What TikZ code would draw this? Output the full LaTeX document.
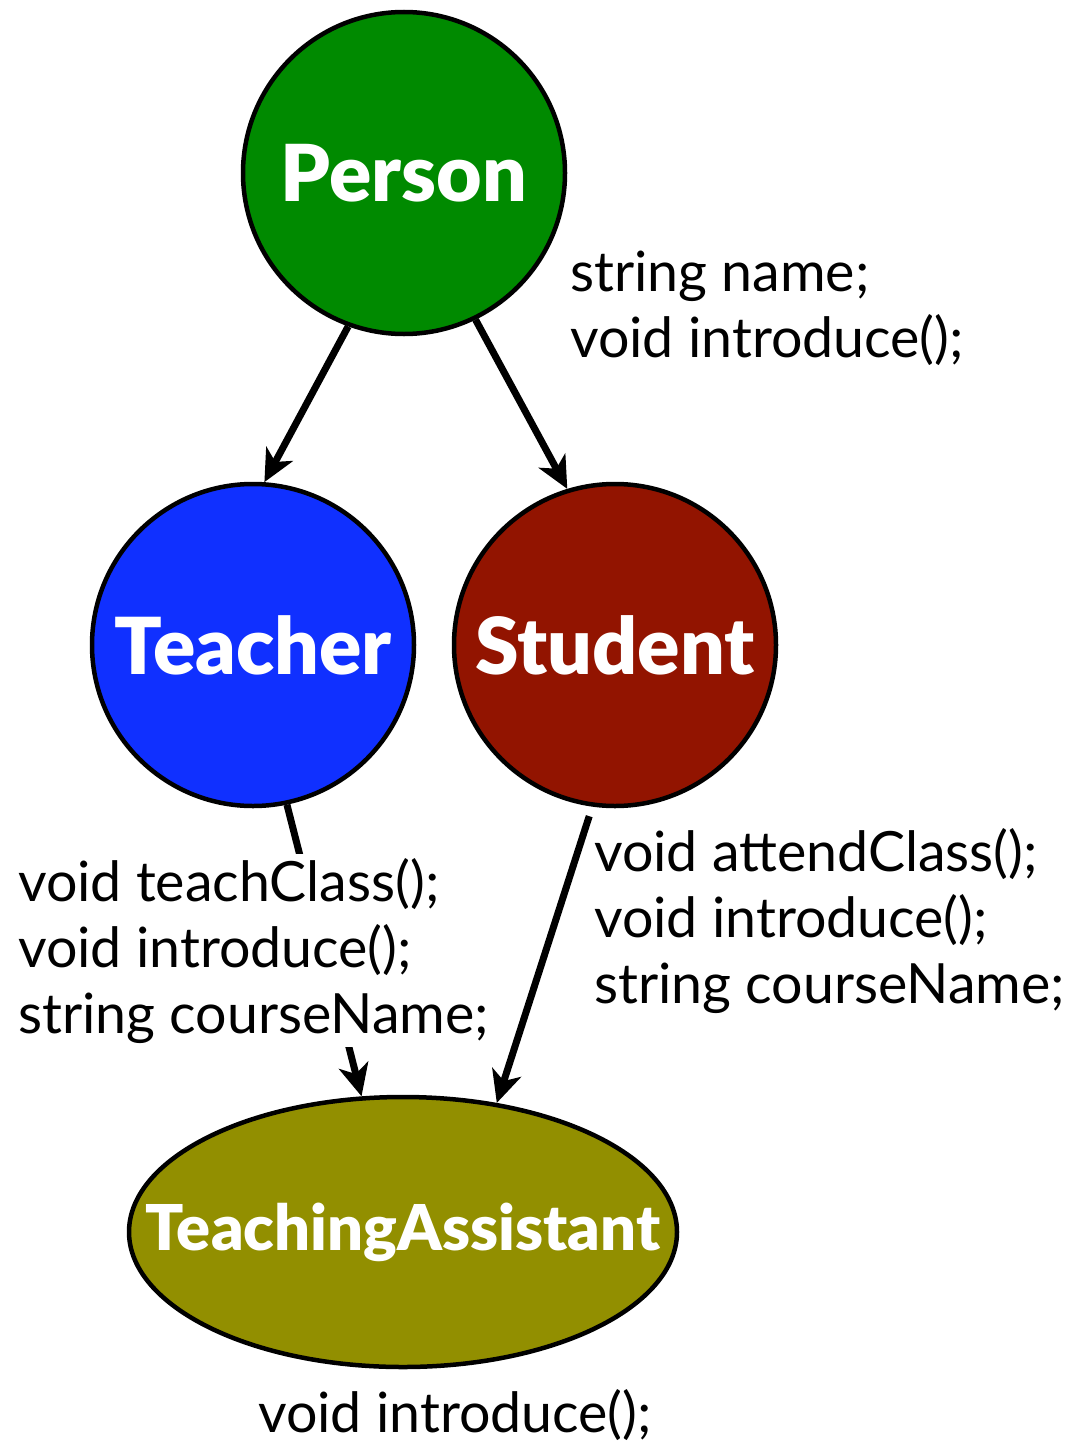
\documentclass[tikz,border=0pt]{standalone}
\usepackage{fontspec}
\usepackage{graphicx}
\setmainfont{Lato}
\newfontfamily\heavy{Lato Black}
\usetikzlibrary{arrows.meta,shapes.geometric}
\definecolor{persongreen}{RGB}{0,138,0}
\definecolor{teacherblue}{RGB}{16,48,255}
\definecolor{studentred}{RGB}{146,20,0}
\definecolor{taolive}{RGB}{146,143,0}
\begin{document}
\begin{tikzpicture}[x=1pt,y=-1pt,
  cls/.style={circle,draw=black,line width=4.5pt,minimum size=322pt,inner sep=0pt,text=white},
  inh/.style={line width=7pt,-{Stealth[length=32pt,width=30pt,inset=9pt]}},
  member/.style={align=left,anchor=base west,inner sep=0pt,font=\fontsize{55.5}{66}\selectfont}]
\useasboundingbox[fill=white] (0,0) rectangle (1066,1445);
\node[cls,fill=persongreen] (person) at (404,173) {\resizebox{246pt}{!}{\heavy Person}};
\node[cls,fill=teacherblue] (teacher) at (253,645) {\resizebox{277pt}{!}{\heavy Teacher}};
\node[cls,fill=studentred] (student) at (615,645) {\resizebox{279pt}{!}{\heavy Student}};
\node[ellipse,draw=black,line width=4.5pt,minimum width=548pt,minimum height=270pt,inner sep=0pt,fill=taolive,text=white] (ta) at (403,1232) {\makebox[0pt]{\resizebox{514pt}{!}{\heavy TeachingAssistant}}};
\draw[inh] (person.250) -- (teacher.86);
\draw[inh] (person.296) -- (student.107);
\draw[inh,shorten <=10pt] (student.262) -- (ta.54);
\draw[inh] (teacher.282) -- (ta.107);
\node[member] (personm) at (570,357) {string name;\\void introduce();};
\node[member,fill=white,inner ysep=4pt] (teacherm) at (18,1033) {void teachClass();\\void introduce();\\string courseName;};
\node[member] (studentm) at (594,1003) {void attendClass();\\void introduce();\\string courseName;};
\node[member] (tam) at (258,1432) {void introduce();};
\end{tikzpicture}
\end{document}
